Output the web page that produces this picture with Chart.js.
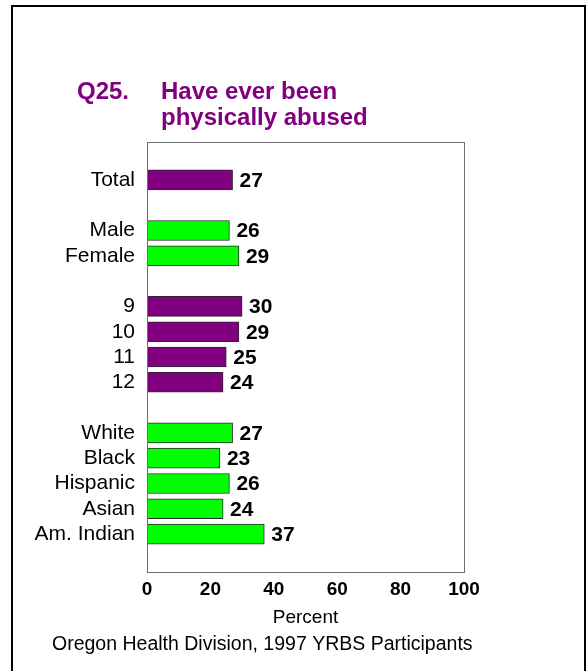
<!DOCTYPE html>
<html>
<head>
<meta charset="utf-8">
<script src="https://cdn.jsdelivr.net/npm/chart.js@4/dist/chart.umd.min.js"></script>
<style>
  html, body { margin: 0; padding: 0; background: #fff; }
  #wrap { width: 587px; height: 671px; position: relative; }
</style>
</head>
<body>
<div id="wrap"><canvas id="c" width="587" height="671"></canvas></div>
<script>
// ---- data ----
const categories = ['', 'Total', '', 'Male', 'Female', '', '9', '10', '11', '12', '', 'White', 'Black', 'Hispanic', 'Asian', 'Am. Indian', ''];
const values     = [null, 27, null, 26, 29, null, 30, 29, 25, 24, null, 27, 23, 26, 24, 37, null];
const groups     = ['', 'Total', '', 'Sex', 'Sex', '', 'Grade', 'Grade', 'Grade', 'Grade', '', 'Race', 'Race', 'Race', 'Race', 'Race', ''];
const xTicks     = [0, 20, 40, 60, 80, 100];
const titleNumber = 'Q25.';
const titleLines  = ['Have ever been', 'physically abused'];
const axisTitle   = 'Percent';
const sourceNote  = 'Oregon Health Division, 1997 YRBS Participants';

// ---- styles ----
const FONT = '"Liberation Sans", Arial, Helvetica, sans-serif';
const PURPLE = '#800080';
const GREEN = '#00FF00';
const groupColors = { Total: PURPLE, Grade: PURPLE, Sex: GREEN, Race: GREEN, '': 'rgba(0,0,0,0)' };

const decorPlugin = {
  id: 'decor',
  beforeDraw(chart) {
    const ctx = chart.ctx;
    ctx.save();
    ctx.fillStyle = '#fff';
    ctx.fillRect(0, 0, chart.width, chart.height);
    // outer frame
    ctx.strokeStyle = '#000';
    ctx.lineWidth = 2;
    ctx.beginPath();
    ctx.moveTo(12, 700);
    ctx.lineTo(12, 6);
    ctx.lineTo(585, 6);
    ctx.lineTo(585, 700);
    ctx.stroke();
    // title
    ctx.fillStyle = PURPLE;
    ctx.font = 'bold 24px ' + FONT;
    ctx.textBaseline = 'alphabetic';
    ctx.textAlign = 'left';
    ctx.fillText(titleNumber, 77, 99);
    ctx.fillText(titleLines[0], 161, 99);
    ctx.fillText(titleLines[1], 161, 125);
    // source note
    ctx.fillStyle = '#000';
    ctx.font = '19.5px ' + FONT;
    ctx.fillText(sourceNote, 52, 650);
    ctx.restore();
  },
  afterDatasetsDraw(chart) {
    const ctx = chart.ctx;
    const a = chart.chartArea;
    ctx.save();
    // plot frame
    ctx.strokeStyle = '#6e6e6e';
    ctx.lineWidth = 1;
    ctx.strokeRect(Math.round(a.left) + 0.5, Math.round(a.top) + 0.5, Math.round(a.right - a.left), Math.round(a.bottom - a.top));
    // value labels
    ctx.fillStyle = '#000';
    ctx.font = 'bold 21px ' + FONT;
    ctx.textAlign = 'left';
    ctx.textBaseline = 'middle';
    const meta = chart.getDatasetMeta(0);
    meta.data.forEach((bar, i) => {
      const v = values[i];
      if (v === null || v === undefined) return;
      ctx.fillText(String(v), bar.x + 7, bar.y + 1);
    });
    ctx.restore();
  }
};

new Chart(document.getElementById('c'), {
  type: 'bar',
  data: {
    labels: categories,
    datasets: [{
      data: values,
      backgroundColor: groups.map(g => groupColors[g]),
      borderColor: '#2a2a2a',
      borderWidth: 1,
      borderSkipped: false,
      barThickness: 20
    }]
  },
  options: {
    indexAxis: 'y',
    responsive: false,
    devicePixelRatio: 1,
    animation: false,
    layout: { padding: { top: 142, right: 123, bottom: 44, left: 0 } },
    plugins: {
      legend: { display: false },
      tooltip: { enabled: false },
      title: { display: false }
    },
    scales: {
      x: {
        min: 0,
        max: 100,
        afterBuildTicks(scale) { scale.ticks = xTicks.map(v => ({ value: v })); },
        grid: { display: false, drawTicks: false },
        border: { display: false },
        ticks: {
          color: '#000',
          padding: 8.5,
          font: { family: FONT, size: 19, weight: 'bold', lineHeight: 1 },
          maxRotation: 0
        },
        title: {
          display: true,
          text: axisTitle,
          color: '#000',
          padding: { top: 0, bottom: 0 },
          font: { family: FONT, size: 19, lineHeight: 1 }
        }
      },
      y: {
        afterFit(scale) { scale.width = 147; },
        grid: { display: false, drawTicks: false },
        border: { display: false },
        ticks: {
          color: '#000',
          padding: 12,
          autoSkip: false,
          font: { family: FONT, size: 21 }
        }
      }
    }
  },
  plugins: [decorPlugin]
});
</script>
</body>
</html>
